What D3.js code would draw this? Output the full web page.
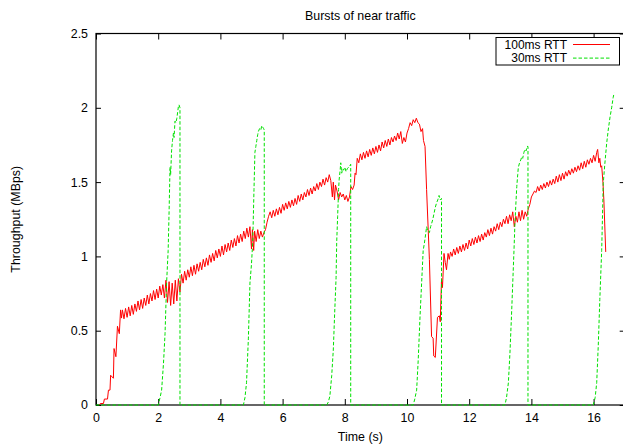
<!DOCTYPE html>
<html>
<head>
<meta charset="utf-8">
<script src="https://cdn.jsdelivr.net/npm/d3@7/dist/d3.min.js"></script>
<style>
  html, body { margin: 0; padding: 0; background: #fff; }
  svg { display: block; font-family: "Liberation Sans", Arial, sans-serif; }
</style>
</head>
<body>
<svg id="chart" width="623" height="448"></svg>
<script>
// Throughput traces, [time (s), throughput (MBps)]
const rtt100 = [
  [0.11,0],[0.14,0.01],[0.24,0.01],[0.27,0.04],[0.37,0.04],[0.40,0.10],[0.45,0.10],[0.47,0.20],
  [0.56,0.18],[0.58,0.38],[0.64,0.325],[0.69,0.53],[0.75,0.48],[0.79,0.64],[0.82,0.585],
  [0.85,0.64],[0.90,0.58],[0.95,0.65],[1.00,0.59],[1.05,0.66],[1.10,0.60],[1.15,0.67],[1.20,0.61],
  [1.25,0.68],[1.30,0.63],[1.35,0.70],[1.40,0.64],[1.45,0.71],[1.50,0.65],[1.55,0.72],[1.60,0.67],
  [1.65,0.74],[1.70,0.68],[1.75,0.75],[1.80,0.70],[1.85,0.77],[1.90,0.71],[1.95,0.78],[2.00,0.72],
  [2.05,0.80],[2.10,0.74],[2.15,0.81],[2.20,0.72],[2.25,0.84],[2.30,0.69],[2.35,0.83],[2.40,0.67],
  [2.45,0.82],[2.50,0.68],[2.55,0.84],[2.60,0.70],[2.65,0.85],[2.70,0.76],[2.75,0.88],[2.80,0.82],
  [2.85,0.90],[2.90,0.84],[2.95,0.91],[3.00,0.86],[3.05,0.93],[3.10,0.87],[3.15,0.94],[3.20,0.88],
  [3.25,0.95],[3.30,0.90],[3.35,0.96],[3.40,0.91],[3.45,0.98],[3.50,0.93],[3.55,0.99],[3.60,0.94],
  [3.65,1.01],[3.70,0.96],[3.75,1.02],[3.80,0.97],[3.85,1.04],[3.90,0.99],[3.95,1.05],[4.00,1.00],
  [4.05,1.07],[4.10,1.01],[4.15,1.08],[4.20,1.03],[4.25,1.09],[4.30,1.04],[4.35,1.11],[4.40,1.06],
  [4.45,1.12],[4.50,1.07],[4.55,1.14],[4.60,1.09],[4.65,1.15],[4.70,1.10],[4.75,1.17],[4.80,1.12],
  [4.85,1.19],[4.90,1.13],[4.95,1.20],[5.00,1.05],[5.03,1.18],[5.07,1.04],[5.10,1.17],[5.15,1.10],
  [5.20,1.18],[5.25,1.12],[5.30,1.17],[5.35,1.13],[5.40,1.16],[5.45,1.18],[5.50,1.23],[5.55,1.27],
  [5.60,1.30],[5.65,1.26],[5.70,1.31],[5.75,1.27],[5.80,1.32],[5.85,1.28],[5.90,1.33],[5.95,1.29],
  [6.00,1.35],[6.05,1.31],[6.10,1.36],[6.15,1.32],[6.20,1.37],[6.25,1.33],[6.30,1.38],[6.35,1.34],
  [6.40,1.39],[6.45,1.35],[6.50,1.41],[6.55,1.37],[6.60,1.42],[6.65,1.38],[6.70,1.43],[6.75,1.40],
  [6.80,1.45],[6.85,1.41],[6.90,1.46],[6.95,1.42],[7.00,1.47],[7.05,1.44],[7.10,1.49],[7.15,1.45],
  [7.20,1.50],[7.25,1.47],[7.30,1.52],[7.35,1.48],[7.40,1.53],[7.45,1.50],[7.50,1.55],[7.55,1.51],
  [7.60,1.40],[7.63,1.50],[7.67,1.38],[7.70,1.48],[7.75,1.44],[7.80,1.38],[7.85,1.43],[7.90,1.40],
  [7.95,1.42],[8.00,1.38],[8.05,1.41],[8.10,1.37],[8.15,1.40],[8.20,1.47],[8.25,1.45],[8.30,1.48],
  [8.33,1.56],[8.36,1.55],[8.40,1.66],[8.45,1.63],[8.50,1.69],[8.55,1.65],[8.60,1.70],[8.65,1.66],
  [8.70,1.71],[8.75,1.67],[8.80,1.72],[8.85,1.68],[8.90,1.73],[8.95,1.69],[9.00,1.74],[9.05,1.70],
  [9.10,1.75],[9.15,1.71],[9.20,1.77],[9.25,1.73],[9.30,1.78],[9.35,1.74],[9.40,1.79],[9.45,1.75],
  [9.50,1.80],[9.55,1.77],[9.60,1.81],[9.65,1.78],[9.70,1.83],[9.75,1.79],[9.80,1.84],[9.85,1.76],
  [9.90,1.80],[9.95,1.77],[10.00,1.83],[10.05,1.86],[10.10,1.90],[10.15,1.88],[10.20,1.92],[10.25,1.90],
  [10.30,1.93],[10.35,1.90],[10.40,1.89],[10.45,1.84],[10.50,1.86],[10.53,1.78],[10.58,1.74],[10.63,1.45],
  [10.72,0.98],[10.79,0.46],[10.84,0.45],[10.86,0.33],[10.91,0.32],[10.98,0.59],[11.04,0.60],[11.07,0.56],
  [11.11,0.85],[11.14,0.79],[11.19,1.02],[11.23,0.96],[11.27,0.91],[11.32,1.02],[11.36,0.98],[11.40,1.03],
  [11.45,1.00],[11.50,1.05],[11.55,1.01],[11.60,1.06],[11.65,1.02],[11.70,1.07],[11.75,1.03],[11.80,1.08],
  [11.85,1.04],[11.90,1.09],[11.95,1.05],[12.00,1.11],[12.05,1.07],[12.10,1.12],[12.15,1.08],[12.20,1.13],
  [12.25,1.09],[12.30,1.14],[12.35,1.10],[12.40,1.15],[12.45,1.11],[12.50,1.16],[12.55,1.13],[12.60,1.18],
  [12.65,1.14],[12.70,1.19],[12.75,1.15],[12.80,1.20],[12.85,1.17],[12.90,1.22],[12.95,1.18],[13.00,1.23],
  [13.05,1.20],[13.10,1.25],[13.15,1.22],[13.20,1.27],[13.25,1.22],[13.30,1.28],[13.35,1.24],[13.40,1.30],
  [13.45,1.20],[13.50,1.27],[13.55,1.23],[13.60,1.30],[13.65,1.24],[13.70,1.31],[13.75,1.25],[13.80,1.30],
  [13.85,1.27],[13.90,1.32],[13.95,1.35],[14.00,1.40],[14.05,1.42],[14.10,1.44],[14.15,1.43],[14.20,1.47],
  [14.25,1.44],[14.30,1.48],[14.35,1.45],[14.40,1.49],[14.45,1.46],[14.50,1.50],[14.55,1.47],[14.60,1.51],
  [14.65,1.48],[14.70,1.52],[14.75,1.49],[14.80,1.54],[14.85,1.50],[14.90,1.55],[14.95,1.51],[15.00,1.56],
  [15.05,1.52],[15.10,1.57],[15.15,1.54],[15.20,1.58],[15.25,1.55],[15.30,1.59],[15.35,1.56],[15.40,1.60],
  [15.45,1.57],[15.50,1.61],[15.55,1.58],[15.60,1.63],[15.65,1.59],[15.70,1.64],[15.75,1.60],[15.80,1.65],
  [15.85,1.62],[15.90,1.66],[15.95,1.63],[16.00,1.68],[16.05,1.64],[16.10,1.70],[16.13,1.72],[16.17,1.63],
  [16.20,1.66],[16.23,1.60],[16.26,1.61],[16.30,1.50],[16.33,1.38],[16.39,1.03]
];

const rtt30 = [
  [0,0],[2.00,0],[2.06,0.05],[2.11,0.10],[2.17,0.28],[2.22,0.48],[2.27,0.82],[2.29,0.91],[2.32,1.04],
  [2.35,1.30],[2.38,1.60],[2.40,1.55],[2.43,1.71],[2.46,1.78],[2.49,1.83],[2.51,1.80],[2.54,1.91],
  [2.57,1.90],[2.60,1.93],[2.65,2.01],[2.67,2.02],[2.70,2.00],[2.70,0],
  [4.74,0],[4.79,0.05],[4.84,0.15],[4.90,0.45],[4.95,0.82],[5.00,0.95],[5.04,1.10],[5.08,1.45],
  [5.11,1.70],[5.14,1.74],[5.17,1.78],[5.20,1.82],[5.22,1.84],[5.26,1.86],[5.30,1.85],[5.33,1.88],
  [5.36,1.87],[5.39,1.86],[5.41,1.85],[5.41,0],
  [7.42,0],[7.47,0.02],[7.52,0.06],[7.58,0.20],[7.63,0.37],[7.68,0.65],[7.72,0.86],[7.74,1.10],
  [7.77,1.27],[7.80,1.45],[7.82,1.52],[7.85,1.58],[7.87,1.63],[7.90,1.56],[7.93,1.59],[7.96,1.58],
  [8.00,1.60],[8.04,1.57],[8.08,1.59],[8.12,1.60],[8.16,1.61],[8.19,1.62],[8.19,0],
  [10.20,0],[10.25,0.04],[10.31,0.10],[10.36,0.30],[10.42,0.60],[10.47,0.82],[10.52,1.04],[10.56,1.09],
  [10.60,1.15],[10.63,1.20],[10.67,1.17],[10.72,1.16],[10.76,1.20],[10.79,1.22],[10.83,1.25],[10.87,1.29],
  [10.91,1.33],[10.95,1.36],[10.99,1.38],[11.03,1.41],[11.07,1.38],[11.11,1.39],[11.11,0],
  [13.15,0],[13.20,0.05],[13.26,0.15],[13.31,0.35],[13.36,0.60],[13.40,0.82],[13.44,1.04],[13.47,1.22],
  [13.50,1.35],[13.53,1.47],[13.56,1.55],[13.58,1.60],[13.62,1.63],[13.66,1.65],[13.69,1.67],[13.72,1.66],
  [13.76,1.70],[13.79,1.72],[13.83,1.71],[13.86,1.74],[13.89,1.74],[13.89,0],
  [15.99,0],[16.05,0.05],[16.10,0.15],[16.15,0.40],[16.20,0.71],[16.26,1.04],[16.31,1.49],[16.36,1.62],
  [16.42,1.76],[16.47,1.85],[16.53,1.94],[16.58,2.00],[16.63,2.07],[16.66,2.10]
];

const xTicks = [0, 2, 4, 6, 8, 10, 12, 14, 16];
const yTicks = [0, 0.5, 1, 1.5, 2, 2.5];
const seriesNames = ["100ms RTT", "30ms RTT"];
const seriesColors = ["#ff0000", "#00e000"];

const svg = d3.select("#chart");
const plotLeft = 96, plotRight = 624.7, plotTop = 33.5, plotBottom = 405;
const fontSize = "12.4px";

const x = d3.scaleLinear().domain([0, 17]).range([plotLeft, plotRight]);
const y = d3.scaleLinear().domain([0, 2.5]).range([plotBottom, plotTop]);

// Axes with inward ticks, mirrored on top and right
const gx = svg.append("g").attr("transform", `translate(0,${plotBottom})`)
  .call(d3.axisBottom(x).tickValues(xTicks).tickSize(-6).tickPadding(8.2).tickFormat(d3.format("d")));
const gxTop = svg.append("g").attr("transform", `translate(0,${plotTop})`)
  .call(d3.axisTop(x).tickValues(xTicks).tickSize(-6).tickFormat(""));
const gy = svg.append("g").attr("transform", `translate(${plotLeft},0)`)
  .call(d3.axisLeft(y).tickValues(yTicks).tickSize(-5).tickPadding(8).tickFormat(d3.format("~g")));
const gyRight = svg.append("g").attr("transform", `translate(${plotRight},0)`)
  .call(d3.axisRight(y).tickValues(yTicks).tickSize(-5).tickFormat(""));

[gx, gxTop, gy, gyRight].forEach(g => {
  g.select(".domain").remove();
  g.selectAll(".tick line").attr("stroke", "#000").attr("stroke-width", 1);
  g.selectAll(".tick text").attr("fill", "#000").style("font-size", fontSize)
    .style("font-family", "'Liberation Sans', Arial, sans-serif");
});

// Plot frame
svg.append("rect")
  .attr("x", plotLeft).attr("y", plotTop)
  .attr("width", plotRight - plotLeft).attr("height", plotBottom - plotTop)
  .attr("fill", "none").attr("stroke", "#000").attr("stroke-width", 1.2);

// Data lines
svg.append("clipPath").attr("id", "plotClip")
  .append("rect").attr("x", plotLeft).attr("y", plotTop - 1)
  .attr("width", plotRight - plotLeft).attr("height", plotBottom - plotTop + 2);

const line = d3.line().x(d => x(d[0])).y(d => y(d[1]));
const plot = svg.append("g").attr("clip-path", "url(#plotClip)");

plot.append("path").datum(rtt100)
  .attr("d", line).attr("fill", "none")
  .attr("stroke", seriesColors[0]).attr("stroke-width", 1)
  .attr("stroke-linejoin", "miter");

plot.append("path").datum(rtt30)
  .attr("d", line).attr("fill", "none")
  .attr("stroke", seriesColors[1]).attr("stroke-width", 1)
  .attr("stroke-dasharray", "3.5,2");

// Title and axis labels
svg.append("text").attr("x", (plotLeft + plotRight) / 2).attr("y", 20)
  .attr("text-anchor", "middle").style("font-size", fontSize)
  .text("Bursts of near traffic");
svg.append("text").attr("x", (plotLeft + plotRight) / 2).attr("y", 441)
  .attr("text-anchor", "middle").style("font-size", fontSize)
  .text("Time (s)");
svg.append("text")
  .attr("transform", `translate(19.5,${(plotTop + plotBottom) / 2}) rotate(-90)`)
  .attr("text-anchor", "middle").style("font-size", fontSize)
  .text("Throughput (MBps)");

// Legend
const legendFont = "12px";
const legend = svg.append("g");
legend.append("rect")
  .attr("x", 496).attr("y", 37.5).attr("width", 123.5).attr("height", 27.5)
  .attr("fill", "#fff").attr("stroke", "#000").attr("stroke-width", 1);
seriesNames.forEach((name, i) => {
  const cy = 44.5 + i * 13.6;
  legend.append("text").attr("x", 567).attr("y", cy + 4.3)
    .attr("text-anchor", "end").style("font-size", legendFont).text(name);
  legend.append("line")
    .attr("x1", 573).attr("x2", 610).attr("y1", cy).attr("y2", cy)
    .attr("stroke", seriesColors[i]).attr("stroke-width", 1)
    .attr("stroke-dasharray", i === 1 ? "3.5,2" : null);
});
</script>
</body>
</html>
